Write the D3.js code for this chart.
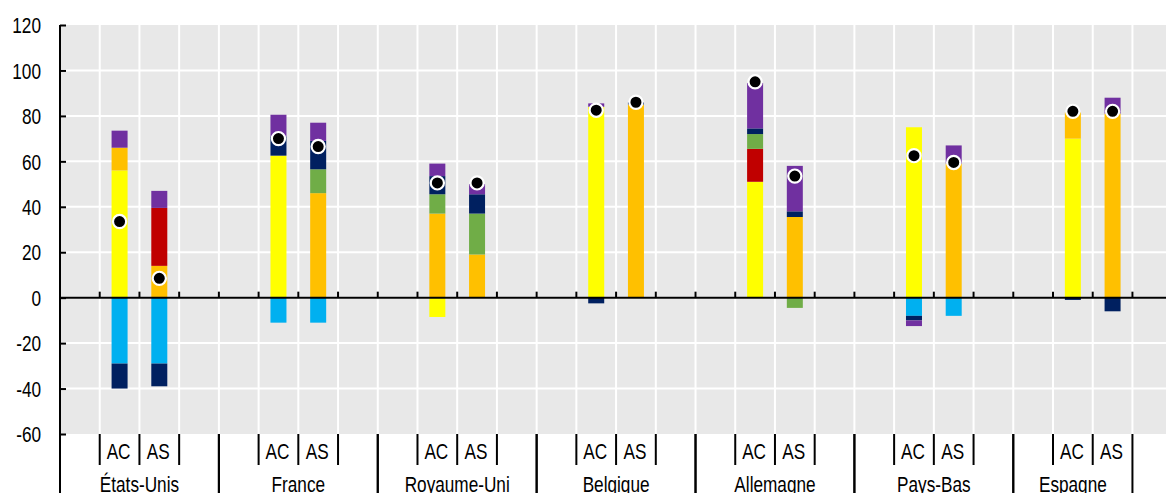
<!DOCTYPE html>
<html>
<head>
<meta charset="utf-8">
<script src="https://cdn.jsdelivr.net/npm/d3@7"></script>
<style>
  html, body { margin: 0; padding: 0; background: #fff; }
  svg { display: block; }
  text { font-family: "Liberation Sans", Arial, sans-serif; fill: #000; }
</style>
</head>
<body>
<svg id="chart" width="1166" height="493"></svg>
<script>
// ---------- DATA ----------
const countries = ["États-Unis", "France", "Royaume-Uni", "Belgique", "Allemagne", "Pays-Bas", "Espagne"];
const subLabels = ["AC", "AS"];
const yTicks = [-60, -40, -20, 0, 20, 40, 60, 80, 100, 120];

// bar order: for each country AC then AS
const seriesKeys = ["bleu", "jaune", "orange", "rouge", "vert", "marine", "violet"];
const bleu   = [-29, -29, -11, -11,    0,  0,    0,  0,    0,    0,   -8, -8,    0,  0];
const jaune  = [ 56,   0, 62.5,  0, -8.5,  0,   84,  0,   51,    0,   75,  0,   70,  0];
const orange = [ 10,  14,    0, 46,   37, 19,    0, 85,    0, 35.5,    0, 59, 11.5, 81];
const rouge  = [  0, 25.5,   0,  0,    0,  0,    0,  0, 14.5,    0,    0,  0,    0,  0];
const vert   = [  0,   0,    0, 10.5, 8.5, 18,   0,  0,  6.5, -4.5,    0,  0,    0,  0];
const marine = [-11, -10,  8.5, 12.5,   8, 8.5, -2.5, 1,  2.5,  2.5,   -2,  0,   -1, -6];
const violet = [7.5, 7.5,  9.5,  8,  5.5, 4.5,  1.5,  0,   20,   20, -2.5,  8,    0,  7];
const points = [33.5, 8.5, 70, 66.5, 50.5, 50.5, 82.5, 86, 95, 53.5, 62.5, 59.5, 82, 82];

const colors = {
  bleu: "#00B0F0", jaune: "#FFFF00", orange: "#FFC000", rouge: "#C00000",
  vert: "#70AD47", marine: "#002060", violet: "#7030A0"
};

// ---------- LAYOUT ----------
const W = 1166, H = 493;
const plotLeft = 60, plotTop = 25, plotBottom = 434;
const slotW = 39.72;

// build slots: each country = [blank, AC, AS, blank], last one without trailing blank
const slots = [];
countries.forEach((c, ci) => {
  slots.push({ id: c + "_pre", country: c, sub: null });
  subLabels.forEach(s => slots.push({ id: c + "_" + s, country: c, sub: s }));
  if (ci < countries.length - 1) slots.push({ id: c + "_post", country: c, sub: null });
});

const x = d3.scaleBand().domain(slots.map(d => d.id)).range([plotLeft, plotLeft + slots.length * slotW]).padding(0);
const y = d3.scaleLinear().domain([-60, 120]).range([plotBottom, plotTop]);

// bar records
const bars = [];
countries.forEach((c, ci) => subLabels.forEach((s, si) => {
  const i = ci * 2 + si;
  bars.push({ id: c + "_" + s, bleu: bleu[i], jaune: jaune[i], orange: orange[i], rouge: rouge[i],
              vert: vert[i], marine: marine[i], violet: violet[i], point: points[i] });
}));

const stack = d3.stack().keys(seriesKeys).offset(d3.stackOffsetDiverging);
const stacked = stack(bars);

const svg = d3.select("#chart");
const fontSize = 21.5, sx = 0.8;

function addText(g, tx, ty, str, anchor) {
  g.append("text")
    .attr("transform", `translate(${tx},${ty}) scale(${sx},1)`)
    .attr("text-anchor", anchor || "middle")
    .style("font-size", fontSize + "px")
    .text(str);
}

// background
svg.append("rect").attr("x", plotLeft).attr("y", plotTop).attr("width", W - plotLeft).attr("height", plotBottom - plotTop).attr("fill", "#E8E8E8");

// horizontal grid
svg.append("g").selectAll("line").data(yTicks.filter(t => t > -60 && t < 120)).join("line")
  .attr("x1", plotLeft).attr("x2", W).attr("y1", d => y(d)).attr("y2", d => y(d))
  .attr("stroke", "#fff").attr("stroke-width", 2);

// vertical grid at every slot boundary
const boundaries = slots.map(s => x(s.id)).concat([x(slots[slots.length - 1].id) + x.bandwidth()]).filter(v => v > plotLeft + 1);
svg.append("g").selectAll("line").data(boundaries).join("line")
  .attr("x1", d => d).attr("x2", d => d).attr("y1", plotTop).attr("y2", plotBottom)
  .attr("stroke", "#fff").attr("stroke-width", 2);

// bars
const bw = 16;
const gBars = svg.append("g");
stacked.forEach(layer => {
  gBars.append("g").attr("fill", colors[layer.key]).selectAll("rect")
    .data(layer.filter(d => d[1] !== d[0]))
    .join("rect")
    .attr("x", d => x(d.data.id) + x.bandwidth() / 2 - bw / 2)
    .attr("width", bw)
    .attr("y", d => y(Math.max(d[0], d[1])))
    .attr("height", d => Math.abs(y(d[0]) - y(d[1])));
});

// zero line + ticks
svg.append("line").attr("x1", plotLeft).attr("x2", W).attr("y1", y(0)).attr("y2", y(0))
  .attr("stroke", "#000").attr("stroke-width", 2);
svg.append("g").selectAll("line").data(boundaries).join("line")
  .attr("x1", d => d).attr("x2", d => d).attr("y1", y(0) - 6).attr("y2", y(0))
  .attr("stroke", "#000").attr("stroke-width", 2);

// points
svg.append("g").selectAll("circle").data(bars).join("circle")
  .attr("cx", d => x(d.id) + x.bandwidth() / 2)
  .attr("cy", d => y(d.point))
  .attr("r", 6.6)
  .attr("fill", "#000").attr("stroke", "#fff").attr("stroke-width", 2.2);

// y axis
const yAxis = d3.axisLeft(y).tickValues(yTicks).tickFormat(d => String(d))
  .tickSizeInner(-6).tickSizeOuter(0).tickPadding(19);
const gy = svg.append("g").attr("transform", `translate(${plotLeft},0)`).call(yAxis);
gy.select(".domain").remove();
gy.selectAll(".tick line").attr("stroke", "#000").attr("stroke-width", 2);
gy.selectAll(".tick text").each(function () {
  const t = d3.select(this);
  const tx = +t.attr("x");
  t.attr("x", null).attr("dy", "0.36em")
   .attr("transform", `translate(${tx},0) scale(${sx},1)`)
   .attr("fill", "#000")
   .style("font-size", fontSize + "px")
   .style("font-family", '"Liberation Sans", Arial, sans-serif');
});
svg.append("line").attr("x1", plotLeft).attr("x2", plotLeft).attr("y1", plotTop).attr("y2", H)
  .attr("stroke", "#000").attr("stroke-width", 2);

// category axis (multi-level)
const gCat = svg.append("g");
countries.forEach((c, ci) => {
  const cs = slots.filter(s => s.country === c);
  const gStart = x(cs[0].id);
  const gEnd = x(cs[cs.length - 1].id) + x.bandwidth();
  [gStart, gEnd].forEach(v => {
    if (v > plotLeft + 1)
      gCat.append("line").attr("x1", v).attr("x2", v).attr("y1", plotBottom).attr("y2", H)
        .attr("stroke", "#000").attr("stroke-width", 2);
  });
  cs.forEach((s, k) => {
    if (k > 0) {
      const v = x(s.id);
      gCat.append("line").attr("x1", v).attr("x2", v).attr("y1", plotBottom).attr("y2", 465)
        .attr("stroke", "#000").attr("stroke-width", 2);
    }
    if (s.sub) addText(gCat, x(s.id) + x.bandwidth() / 2 - 1, 459, s.sub);
  });
  addText(gCat, (gStart + gEnd) / 2, 492, c);
});
</script>
</body>
</html>
